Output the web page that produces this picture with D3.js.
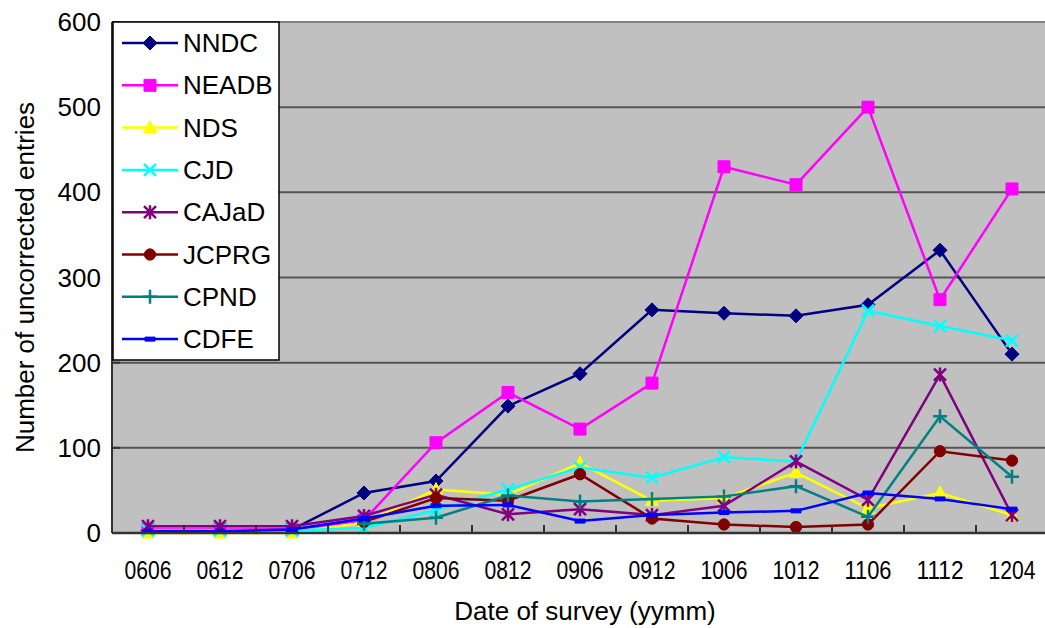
<!DOCTYPE html>
<html><head><meta charset="utf-8">
<script src="https://cdn.jsdelivr.net/npm/d3@7"></script>
<style>
body{margin:0;background:#fff}
svg{display:block}
text{font-family:"Liberation Sans",Arial,sans-serif;fill:#000}
</style>
</head><body>
<svg id="c" width="1045" height="628"></svg>
<script>
const categories = ["0606","0612","0706","0712","0806","0812","0906","0912","1006","1012","1106","1112","1204"];
const yTickValues = [0,100,200,300,400,500,600];
const seriesNames = ["NNDC","NEADB","NDS","CJD","CAJaD","JCPRG","CPND","CDFE"];
const NNDC  = [3,3,4,47,61,149,187,262,258,255,268,332,210];
const NEADB = [4,4,4,15,106,165,122,176,430,409,500,274,404];
const NDS   = [0,0,0,12,51,45,82,38,41,71,29,47,21];
const CJD   = [3,3,3,6,27,51,77,65,89,84,261,243,226];
const CAJaD = [8,8,8,20,45,22,28,21,32,84,39,186,21];
const JCPRG = [null,null,null,13,41,38,69,17,10,7,10,96,85];
const CPND  = [null,null,null,11,18,44,37,40,43,55,19,137,66];
const CDFE  = [2,2,4,17,32,33,14,21,24,26,47,40,28];
const seriesValues = [NNDC,NEADB,NDS,CJD,CAJaD,JCPRG,CPND,CDFE];
const seriesColors = ["#000080","#FF00FF","#FFFF00","#00FFFF","#800080","#800000","#008080","#0000FF"];
const seriesMarkers = ["diamond","square","triangle","x","star","circle","plus","dash"];

const svg = d3.select("#c");
const L = 112, R = 1048, T = 22, B = 533;
const x = d3.scaleBand().domain(categories).range([L, R]).padding(0);
const y = d3.scaleLinear().domain([0, 600]).range([B, T]);
const cx = c => x(c) + x.bandwidth() / 2;
const FS = 26;

// plot background
svg.append("rect").attr("x", L).attr("y", T).attr("width", R - L).attr("height", B - T).attr("fill", "#C0C0C0");

// gridlines
svg.append("g").selectAll("line").data(yTickValues.filter(v => v > 0)).join("line")
  .attr("x1", L).attr("x2", R).attr("y1", d => y(d)).attr("y2", d => y(d))
  .attr("stroke", d => d === 600 ? "#808080" : "#555").attr("stroke-width", 2);

function markerPath(type) {
  switch (type) {
    case "diamond": return "M0,-7L7,0L0,7L-7,0Z";
    case "square": return "M-6,-6H6V6H-6Z";
    case "triangle": return "M0,-7L6.5,5H-6.5Z";
    case "circle": return d3.symbol(d3.symbolCircle, 100)();
    case "x": return "M-6,-6L6,6M-6,6L6,-6";
    case "star": return "M-6,-6L6,6M-6,6L6,-6M0,-7V7";
    case "plus": return "M-7,0H7M0,-7V7";
    case "dash": return "M-5,-2H5V2H-5Z";
  }
}
const stroked = t => t === "x" || t === "star" || t === "plus";

// series
seriesNames.forEach((name, i) => {
  const vals = seriesValues[i];
  const pts = categories.map((c, j) => ({c, v: vals[j]})).filter(d => d.v !== null);
  const g = svg.append("g");
  g.append("path").datum(pts)
    .attr("d", d3.line().x(d => cx(d.c)).y(d => y(d.v)))
    .attr("fill", "none").attr("stroke", seriesColors[i]).attr("stroke-width", 2.5);
  const t = seriesMarkers[i];
  g.selectAll("path.m").data(pts).join("path").attr("class", "m")
    .attr("transform", d => `translate(${cx(d.c)},${y(d.v)})`)
    .attr("d", markerPath(t))
    .attr("fill", stroked(t) ? "none" : seriesColors[i])
    .attr("stroke", seriesColors[i]).attr("stroke-width", stroked(t) ? 2.5 : 1);
});

// axes
const yAxis = svg.append("g");
yAxis.append("line").attr("x1", L).attr("x2", L).attr("y1", T).attr("y2", B).attr("stroke", "#333").attr("stroke-width", 2);
yAxis.selectAll("line.t").data(yTickValues).join("line").attr("class", "t")
  .attr("x1", L).attr("x2", L + 8).attr("y1", d => y(d)).attr("y2", d => y(d)).attr("stroke", "#333").attr("stroke-width", 2);
yAxis.selectAll("text").data(yTickValues).join("text")
  .attr("x", L - 11).attr("y", d => y(d)).attr("dy", "0.35em").attr("text-anchor", "end")
  .attr("font-size", FS).text(d => d);

const xAxis = svg.append("g");
xAxis.append("line").attr("x1", L).attr("x2", R).attr("y1", B).attr("y2", B).attr("stroke", "#333").attr("stroke-width", 2.5);
xAxis.selectAll("line.t").data(categories.slice(1)).join("line").attr("class", "t")
  .attr("x1", d => x(d)).attr("x2", d => x(d)).attr("y1", B).attr("y2", B - 8).attr("stroke", "#333").attr("stroke-width", 2);
xAxis.selectAll("text").data(categories).join("text")
  .attr("x", d => cx(d)).attr("y", 579).attr("text-anchor", "middle")
  .attr("font-size", FS).attr("textLength", 47).attr("lengthAdjust", "spacingAndGlyphs").text(d => d);

// axis titles
svg.append("text").attr("x", (L + R) / 2 + 5).attr("y", 620).attr("text-anchor", "middle")
  .attr("font-size", FS).text("Date of survey (yymm)");
svg.append("text").attr("transform", `translate(34,${(T + B) / 2}) rotate(-90)`).attr("text-anchor", "middle")
  .attr("font-size", FS).text("Number of uncorrected entries");

// legend
const lg = svg.append("g");
lg.append("rect").attr("x", 113).attr("y", 22).attr("width", 166).attr("height", 338)
  .attr("fill", "#fff").attr("stroke", "#000").attr("stroke-width", 1.5);
seriesNames.forEach((name, i) => {
  const yy = 43 + i * 42.3;
  lg.append("line").attr("x1", 122).attr("x2", 178).attr("y1", yy).attr("y2", yy)
    .attr("stroke", seriesColors[i]).attr("stroke-width", 2.5);
  const t = seriesMarkers[i];
  lg.append("path").attr("transform", `translate(150,${yy})`).attr("d", markerPath(t))
    .attr("fill", stroked(t) ? "none" : seriesColors[i])
    .attr("stroke", seriesColors[i]).attr("stroke-width", stroked(t) ? 2.5 : 1);
  lg.append("text").attr("x", 183).attr("y", yy).attr("dy", "0.35em").attr("font-size", FS).text(name);
});
</script>
</body></html>
